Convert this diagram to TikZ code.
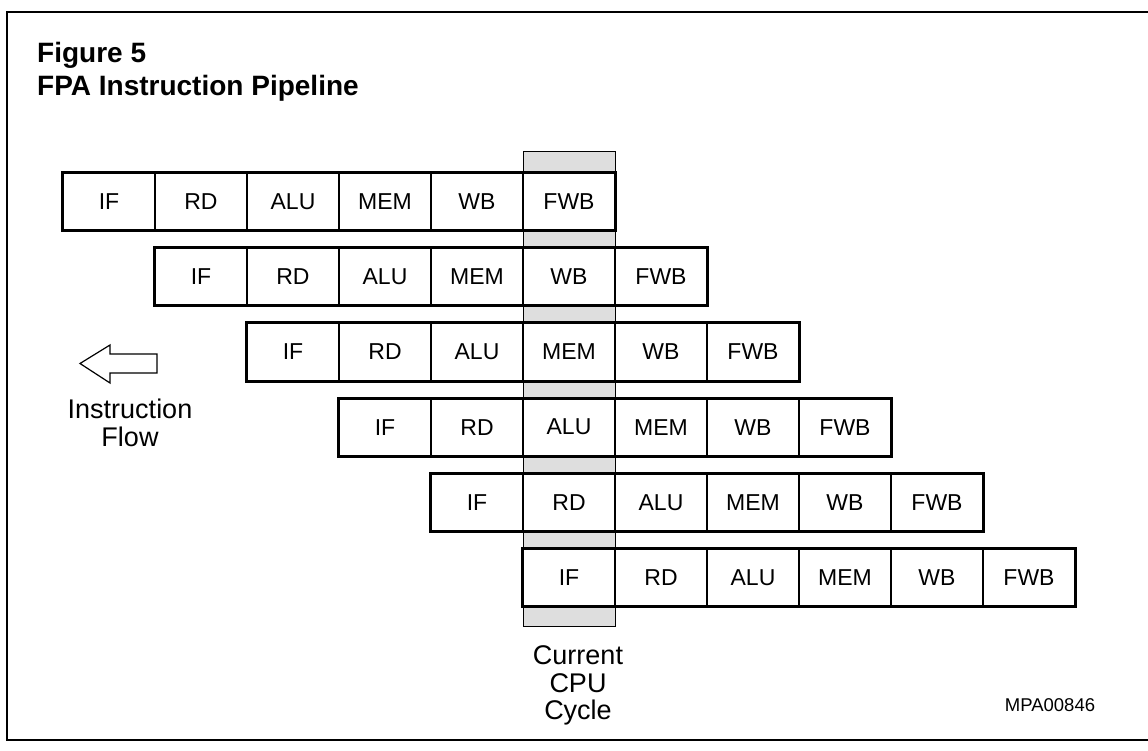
\documentclass[tikz,border=0pt]{standalone}
\usepackage{fontspec}
\setmainfont{Liberation Sans}
\usetikzlibrary{positioning}

\begin{document}
\begin{tikzpicture}[x=1pt,y=-1pt,
  stage/.style={draw,line width=1.2pt,fill=white,minimum width=92pt,minimum height=57pt,inner sep=0pt,font=\fontsize{23}{26}\selectfont},
  rowframe/.style={line width=3pt},
  cyclecol/.style={draw,line width=1pt,fill=black!13},
  flowtext/.style={anchor=base,inner sep=0pt,font=\fontsize{27}{30}\selectfont},
  headtext/.style={anchor=base west,inner sep=0pt,font=\fontsize{28}{32}\selectfont\bfseries}]
  \useasboundingbox (0,0) rectangle (1148,751);
  % outer frame, runs off the right edge
  \draw[line width=2pt] (1148,12) -- (7,12) -- (7,740) -- (1148,740);
  \node[headtext] (fig) at (37,63) {Figure 5};
  \node[headtext] (title) at (37,96) {FPA Instruction Pipeline};
  % current cycle column
  \draw[cyclecol] (523,152) rectangle (615,626);
  % pipeline rows
  \foreach \i in {1,...,6}{
    \foreach \s [count=\j] in {IF,RD,ALU,MEM,WB,FWB}{
      \node[stage] (r\i c\j) at (63+92*\i-92+92*\j-46, 173+75.2*\i-75.2+28.5) {\s};
    }
    \draw[rowframe] (r\i c1.north west) rectangle (r\i c6.south east);
  }
  % instruction flow
  \draw[line width=1.2pt,line join=miter] (157,354) -- (110,354) -- (110,345) -- (80,363.5) -- (110,383) -- (110,373) -- (157,373) -- cycle;
  \node[flowtext] (flow1) at (130,418) {Instruction};
  \node[flowtext] (flow2) at (130,446) {Flow};
  \node[flowtext] (cyc1) at (578,664) {Current};
  \node[flowtext] (cyc2) at (578,692) {CPU};
  \node[flowtext] (cyc3) at (578,719) {Cycle};
  \node[flowtext,font=\fontsize{18.5}{21}\selectfont] (code) at (1050,711) {MPA00846};
\end{tikzpicture}
\end{document}
